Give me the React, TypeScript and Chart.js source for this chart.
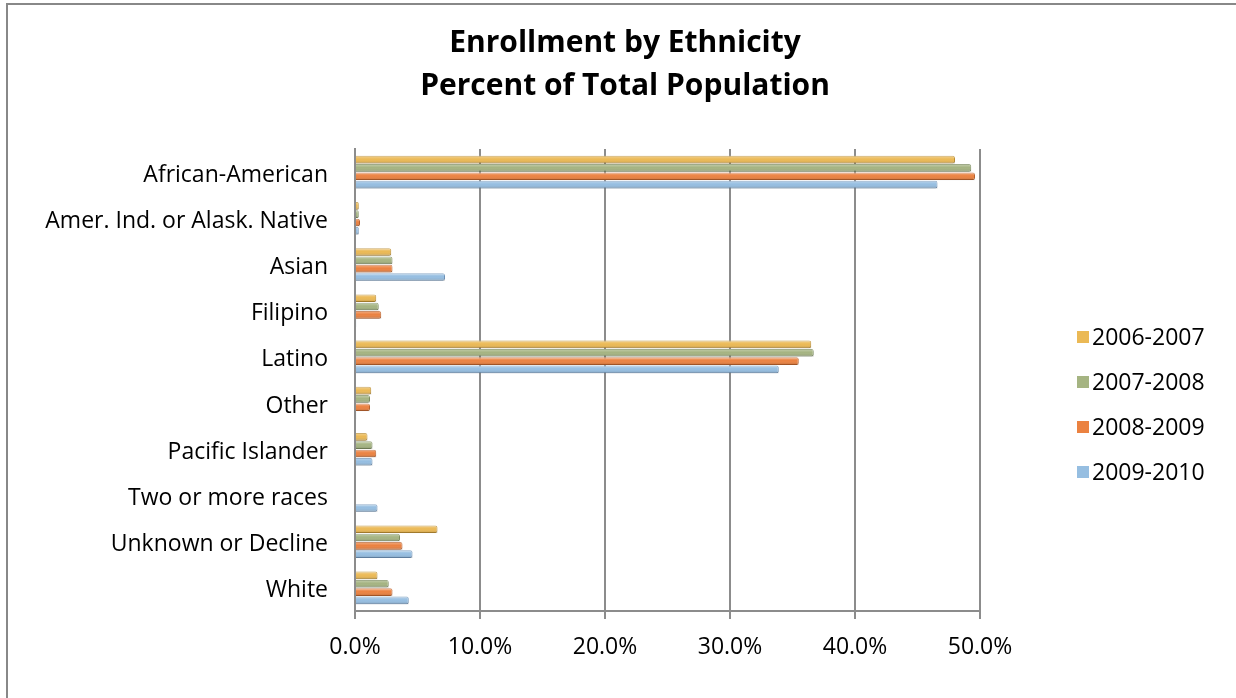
import React, { useEffect, useRef } from "react";
import { Chart, registerables } from "chart.js";

Chart.register(...registerables);

const categories = [
  "African-American",
  "Amer. Ind. or Alask. Native",
  "Asian",
  "Filipino",
  "Latino",
  "Other",
  "Pacific Islander",
  "Two or more races",
  "Unknown or Decline",
  "White",
];
const seriesLabels = ["2006-2007", "2007-2008", "2008-2009", "2009-2010"];
const values2006 = [48.0, 0.3, 2.9, 1.7, 36.5, 1.3, 1.0, 0, 6.6, 1.8];
const values2007 = [49.3, 0.3, 3.0, 1.9, 36.7, 1.2, 1.4, 0, 3.6, 2.7];
const values2008 = [49.6, 0.4, 3.0, 2.1, 35.5, 1.2, 1.7, 0, 3.8, 3.0];
const values2009 = [46.6, 0.3, 7.2, 0.1, 33.9, 0.1, 1.4, 1.8, 4.6, 4.3];
const xTicks = [0, 10, 20, 30, 40, 50];
const titleLines = ["Enrollment by Ethnicity", "Percent of Total Population"];

const fills = ["#EBB955", "#A5B482", "#EB8241", "#96BEE1"];
const edges = ["#B88A2E", "#7A8A5C", "#B85E28", "#6A8FB5"];

const FONT = "'Open Sans', Lato, sans-serif";
const W = 1236;
const H = 698;

const shadePlugin = {
  id: "shade",
  afterDatasetsDraw(chart: any) {
    const ctx = chart.ctx;
    ctx.save();
    chart.data.datasets.forEach((_: any, di: number) => {
      const meta = chart.getDatasetMeta(di);
      meta.data.forEach((el: any) => {
        const { x, y, base, height } = el.getProps(["x", "y", "base", "height"], true);
        if (!height || x - base < 1) return;
        const top = y - height / 2;
        const g = ctx.createLinearGradient(0, top, 0, top + height);
        g.addColorStop(0, "rgba(255,255,255,0.35)");
        g.addColorStop(0.45, "rgba(255,255,255,0.0)");
        g.addColorStop(1, "rgba(0,0,0,0.18)");
        ctx.fillStyle = g;
        ctx.fillRect(base, top, x - base, height);
      });
    });
    ctx.restore();
  },
};

const decorPlugin = {
  id: "decor",
  afterDraw(chart: any) {
    const ctx = chart.ctx;
    ctx.save();
    ctx.fillStyle = "#000";
    ctx.textAlign = "center";
    ctx.textBaseline = "alphabetic";
    ctx.font = `bold 30px ${FONT}`;
    ctx.fillText(titleLines[0], 625, 52);
    ctx.fillText(titleLines[1], 625, 95);
    ctx.font = `23px ${FONT}`;
    ctx.textAlign = "left";
    ctx.textBaseline = "middle";
    const ys = [337, 382, 427, 472];
    chart.data.datasets.forEach((ds: any, i: number) => {
      const y = ys[i];
      ctx.fillStyle = ds.backgroundColor;
      ctx.fillRect(1077, y - 6, 12, 12);
      ctx.fillStyle = "#000";
      ctx.fillText(ds.label, 1092, y + 1);
    });
    ctx.restore();
  },
};

export default function App() {
  const ref = useRef<HTMLCanvasElement | null>(null);

  useEffect(() => {
    if (!ref.current) return;
    const allValues = [values2006, values2007, values2008, values2009];
    const chart = new Chart(ref.current, {
      type: "bar",
      data: {
        labels: categories,
        datasets: seriesLabels.map((label, i) => ({
          label,
          data: allValues[i],
          backgroundColor: fills[i],
          borderColor: edges[i],
          borderWidth: 1,
          borderRadius: 2,
          borderSkipped: "start",
          categoryPercentage: 0.72,
          barPercentage: 0.92,
        })),
      },
      options: {
        indexAxis: "y",
        responsive: false,
        animation: false,
        devicePixelRatio: 1,
        layout: { padding: { top: 149, right: 256, bottom: 0, left: 0 } },
        plugins: {
          legend: { display: false },
          title: { display: false },
          tooltip: { enabled: false },
        },
        scales: {
          x: {
            min: 0,
            max: 50,
            afterBuildTicks: (s: any) => {
              s.ticks = xTicks.map((v) => ({ value: v }));
            },
            afterFit: (s: any) => {
              s.height = H - 611;
            },
            ticks: {
              color: "#000",
              font: { family: FONT, size: 23 },
              padding: 15,
              callback: (v: any) => Number(v).toFixed(1) + "%",
            },
            grid: {
              color: "#8c8c8c",
              lineWidth: 2,
              tickLength: 8,
              drawTicks: true,
            },
            border: { display: true, color: "#8c8c8c", width: 2 },
          },
          y: {
            afterFit: (s: any) => {
              s.width = 355;
            },
            ticks: {
              color: "#000",
              font: { family: FONT, size: 23 },
              padding: 27,
              labelOffset: 3,
            },
            grid: { display: false, drawTicks: false },
            border: { display: true, color: "#8c8c8c", width: 2 },
          },
        },
      },
      plugins: [shadePlugin, decorPlugin],
    } as any);
    return () => chart.destroy();
  }, []);

  return (
    <div>
      <div
        style={{
          position: "fixed",
          left: 0,
          top: 0,
          width: W,
          height: H,
          background: "#fff",
        }}
      >
        <canvas ref={ref} width={W} height={H} style={{ width: W, height: H, display: "block" }} />
      </div>
      <div
        style={{
          position: "fixed",
          left: 6,
          top: 3,
          width: W + 20,
          height: H + 20,
          border: "2px solid #888",
          boxSizing: "border-box",
          pointerEvents: "none",
        }}
      />
    </div>
  );
}
